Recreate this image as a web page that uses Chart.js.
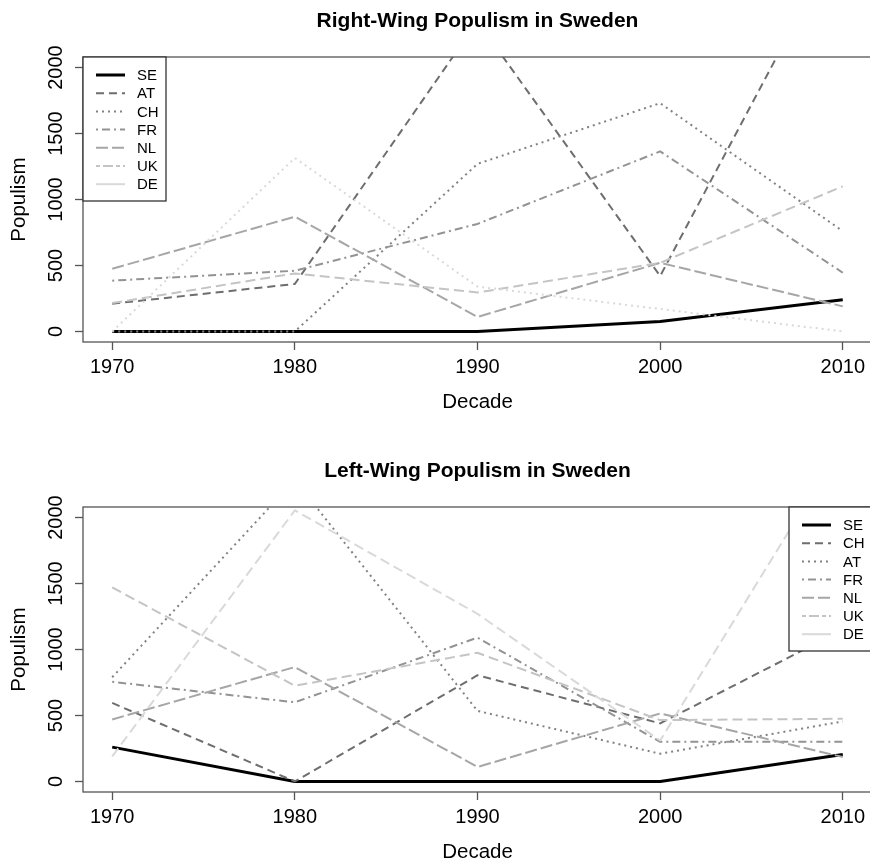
<!DOCTYPE html>
<html>
<head>
<meta charset="utf-8">
<script src="https://cdn.jsdelivr.net/npm/chart.js@4/dist/chart.umd.min.js"></script>
<style>
  html, body { margin: 0; padding: 0; background: #fff; overflow: hidden; }
  #page { position: relative; width: 870px; height: 861px; overflow: hidden; }
  .panel { position: absolute; left: 0; width: 875px; height: 450px; }
  #rightPanel { top: 0; }
  #leftPanel { top: 450px; }
</style>
</head>
<body>
<div id="page">
  <div class="panel" id="rightPanel"><canvas id="rightChart"></canvas></div>
  <div class="panel" id="leftPanel"><canvas id="leftChart"></canvas></div>
</div>
<script>
const FONT = '"Liberation Sans", Arial, Helvetica, sans-serif';

const decades = [1970, 1980, 1990, 2000, 2010];
const yTicks = [0, 500, 1000, 1500, 2000];

// right-wing populism per country
const rightCountries = ['SE', 'AT', 'CH', 'FR', 'NL', 'UK', 'DE'];
const rightSE = [0, 0, 0, 75, 240];
const rightAT = [210, 360, 2350, 420, 3020];
const rightCH = [0, 0, 1270, 1730, 760];
const rightFR = [385, 460, 815, 1365, 445];
const rightNL = [475, 870, 110, 520, 190];
const rightUK = [215, 440, 295, 520, 1100];
const rightDE = [0, 1315, 340, 170, 0];

// left-wing populism per country
const leftCountries = ['SE', 'CH', 'AT', 'FR', 'NL', 'UK', 'DE'];
const leftSE = [260, 0, 0, 0, 205];
const leftCH = [595, 0, 805, 440, 1150];
const leftAT = [790, 2285, 535, 210, 455];
const leftFR = [755, 600, 1090, 300, 300];
const leftNL = [470, 867, 110, 515, 185];
const leftUK = [1470, 725, 975, 465, 475];
const leftDE = [190, 2055, 1270, 310, 2560];

// grey ramp, darkest first
const greys = ['#000000', '#6e6e6e', '#828282', '#939393', '#a6a6a6', '#c4c4c4', '#d9d9d9'];

const DASHED = [8, 5];
const DOTTED = [2, 4];
const DOTDASH = [2, 4, 8, 4];
const LONGDASH = [12, 4];
const TWODASH = [4, 3, 10, 3];
const LIGHTDASH = [10, 5];

const rightLines = [
  { color: greys[0], width: 3, dash: [] },
  { color: greys[1], width: 2, dash: DASHED },
  { color: greys[2], width: 2, dash: DOTTED },
  { color: greys[3], width: 2, dash: DOTDASH },
  { color: greys[4], width: 2, dash: LONGDASH },
  { color: greys[5], width: 2, dash: LIGHTDASH },
  { color: greys[6], width: 2, dash: DOTTED }
];

const leftLines = [
  { color: greys[0], width: 3, dash: [] },
  { color: greys[1], width: 2, dash: DASHED },
  { color: greys[2], width: 2, dash: DOTTED },
  { color: greys[3], width: 2, dash: DOTDASH },
  { color: greys[4], width: 2, dash: LONGDASH },
  { color: greys[5], width: 2, dash: LIGHTDASH },
  { color: greys[6], width: 2, dash: LIGHTDASH }
];

const legendLines = [
  { color: greys[0], width: 3, dash: [] },
  { color: greys[1], width: 2, dash: DASHED },
  { color: greys[2], width: 2, dash: DOTTED },
  { color: greys[3], width: 2, dash: DOTDASH },
  { color: greys[4], width: 2, dash: LONGDASH },
  { color: greys[5], width: 2, dash: TWODASH },
  { color: greys[6], width: 2, dash: [] }
];

// plot box, rotated y labels and the boxed legend
const panelFrame = {
  id: 'panelFrame',
  afterDraw(chart, args, opts) {
    const { ctx, chartArea: a } = chart;
    const y = chart.scales.y;
    ctx.save();
    ctx.strokeStyle = '#555';
    ctx.lineWidth = 1.3;
    ctx.setLineDash([]);
    ctx.strokeRect(a.left, a.top, a.right - a.left, a.bottom - a.top);

    ctx.fillStyle = '#000';
    ctx.font = '20px ' + FONT;
    ctx.textAlign = 'center';
    ctx.textBaseline = 'alphabetic';
    y.ticks.forEach(t => {
      ctx.save();
      ctx.translate(a.left - 21, y.getPixelForValue(t.value));
      ctx.rotate(-Math.PI / 2);
      ctx.fillText(String(t.value), 0, 0);
      ctx.restore();
    });

    const w = 83, h = 144, rowGap = 18.2;
    const bx = opts.side === 'right' ? a.right - w : a.left;
    const by = a.top;
    ctx.fillStyle = '#fff';
    ctx.fillRect(bx, by, w, h);
    ctx.strokeStyle = '#333';
    ctx.strokeRect(bx, by, w, h);
    ctx.font = '15px ' + FONT;
    ctx.textAlign = 'left';
    ctx.textBaseline = 'middle';
    chart.data.datasets.forEach((ds, i) => {
      const st = opts.lines[i];
      const ry = by + 18 + i * rowGap;
      ctx.strokeStyle = st.color;
      ctx.lineWidth = st.width;
      ctx.setLineDash(st.dash);
      ctx.beginPath();
      ctx.moveTo(bx + 13, ry);
      ctx.lineTo(bx + 42, ry);
      ctx.stroke();
      ctx.fillStyle = '#000';
      ctx.fillText(ds.label, bx + 54, ry + 1);
    });
    ctx.restore();
  }
};

function buildDatasets(names, series, lines) {
  return names.map((name, i) => ({
    label: name,
    data: series[i],
    borderColor: lines[i].color,
    borderWidth: lines[i].width,
    borderDash: lines[i].dash,
    borderCapStyle: 'butt',
    borderJoinStyle: 'round',
    pointRadius: 0,
    tension: 0,
    fill: false,
    clip: 0,
    order: names.length - i
  }));
}

function makeChart(canvasId, title, names, series, lines, side) {
  new Chart(document.getElementById(canvasId), {
    type: 'line',
    data: { labels: decades, datasets: buildDatasets(names, series, lines) },
    plugins: [panelFrame],
    options: {
      responsive: true,
      maintainAspectRatio: false,
      animation: false,
      events: [],
      layout: { padding: { left: 0, right: 3, top: 0, bottom: 0 } },
      plugins: {
        legend: { display: false },
        tooltip: { enabled: false },
        title: {
          display: true,
          text: title,
          fullSize: false,
          color: '#000',
          font: { family: FONT, size: 21, weight: 'bold' },
          padding: { top: 9, bottom: 22.8 }
        },
        panelFrame: { side: side, lines: legendLines }
      },
      scales: {
        x: {
          type: 'linear',
          min: 1968.4,
          max: 2011.6,
          afterBuildTicks: scale => { scale.ticks = decades.map(v => ({ value: v })); },
          afterFit: scale => { scale.height = 108; },
          ticks: {
            color: '#000',
            font: { family: FONT, size: 20 },
            padding: 5,
            maxRotation: 0,
            autoSkip: false,
            callback: v => String(v)
          },
          grid: { drawOnChartArea: false, drawTicks: true, tickLength: 8, tickColor: '#555', tickWidth: 1.3 },
          border: { display: false },
          title: {
            display: true,
            text: 'Decade',
            color: '#000',
            font: { family: FONT, size: 20.5 },
            padding: { top: 0, bottom: 35 }
          }
        },
        y: {
          min: -80,
          max: 2080,
          afterBuildTicks: scale => { scale.ticks = yTicks.map(v => ({ value: v })); },
          afterFit: scale => { scale.width = 83; },
          ticks: { display: false },
          grid: { drawOnChartArea: false, drawTicks: true, tickLength: 8, tickColor: '#555', tickWidth: 1.3 },
          border: { display: false },
          title: {
            display: true,
            text: 'Populism',
            color: '#000',
            font: { family: FONT, size: 20.5 },
            padding: { top: 7, bottom: 0 }
          }
        }
      }
    }
  });
}

makeChart('rightChart', 'Right-Wing Populism in Sweden', rightCountries,
  [rightSE, rightAT, rightCH, rightFR, rightNL, rightUK, rightDE], rightLines, 'left');
makeChart('leftChart', 'Left-Wing Populism in Sweden', leftCountries,
  [leftSE, leftCH, leftAT, leftFR, leftNL, leftUK, leftDE], leftLines, 'right');
</script>
</body>
</html>
